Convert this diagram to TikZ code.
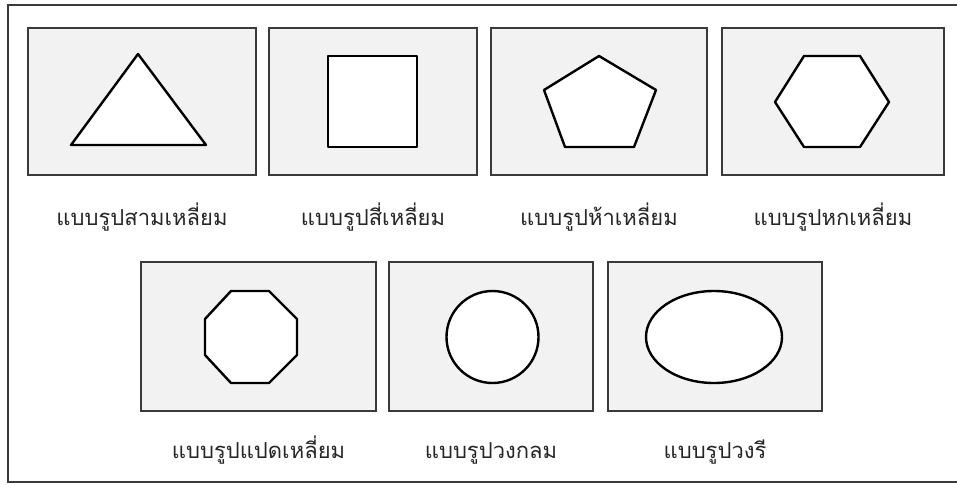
\documentclass[tikz,border=0pt]{standalone}
\usepackage{fontspec}
\newfontfamily\thaifont[Script=Thai]{Loma}
\usetikzlibrary{positioning}
\definecolor{panel-gray}{HTML}{F2F2F2}
\definecolor{edge-gray}{HTML}{3A3A3A}

\begin{document}
\begin{tikzpicture}[
    x=1pt, y=-1pt,
    frame/.style={draw=edge-gray, line width=2pt},
    panel/.style={draw=edge-gray, line width=2pt, fill=panel-gray, minimum height=147pt, inner sep=0pt},
    outline/.style={draw=black, line width=2.4pt, fill=white, line join=round},
    caption/.style={font=\thaifont\fontsize{22}{24}\selectfont, text=black!85, inner sep=0pt, text height=14pt, text depth=6pt}
]
    \useasboundingbox (0,0) rectangle (957,484);
    \draw[frame] (960,5) -- (8,5) -- (8,482) -- (960,482);

    % top row
    \node[panel, minimum width=228pt] (p1) at (142,101.5) {};
    \node[panel, minimum width=208pt] (p2) at (373,101.5) {};
    \node[panel, minimum width=216pt] (p3) at (599,101.5) {};
    \node[panel, minimum width=222pt] (p4) at (833,101.5) {};

    % bottom row
    \node[panel, minimum width=235pt, minimum height=149pt] (p5) at (258.5,336.5) {};
    \node[panel, minimum width=204pt, minimum height=149pt] (p6) at (491,336.5) {};
    \node[panel, minimum width=214pt, minimum height=149pt] (p7) at (715,336.5) {};

    % shapes
    \draw[outline] (71,145) -- (138,54) -- (206,145) -- cycle;
    \draw[outline] (328,56) rectangle (417,147);
    \draw[outline] (599,56) -- (656,90) -- (634,147) -- (565,147) -- (544,90) -- cycle;
    \draw[outline] (804,56) -- (860,56) -- (889,102) -- (860,147) -- (804,147) -- (775,102) -- cycle;
    \draw[outline] (231,291) -- (269,291) -- (297,319) -- (297,355) -- (269,383) -- (231,383) -- (205,355) -- (205,319) -- cycle;
    \draw[outline] (492.5,337) ellipse [x radius=46, y radius=46];
    \draw[outline] (714,337) ellipse [x radius=68, y radius=46];

    % captions
    \node[caption] (t1) at (p1.south) [yshift=-45pt] {แบบรูปสามเหลี่ยม};
    \node[caption] (t2) at (p2.south) [yshift=-45pt] {แบบรูปสี่เหลี่ยม};
    \node[caption] (t3) at (p3.south) [yshift=-45pt] {แบบรูปห้าเหลี่ยม};
    \node[caption] (t4) at (p4.south) [yshift=-45pt] {แบบรูปหกเหลี่ยม};
    \node[caption] (t5) at (p5.south) [yshift=-42pt] {แบบรูปแปดเหลี่ยม};
    \node[caption] (t6) at (p6.south) [yshift=-42pt] {แบบรูปวงกลม};
    \node[caption] (t7) at (p7.south) [yshift=-42pt] {แบบรูปวงรี};
\end{tikzpicture}
\end{document}
